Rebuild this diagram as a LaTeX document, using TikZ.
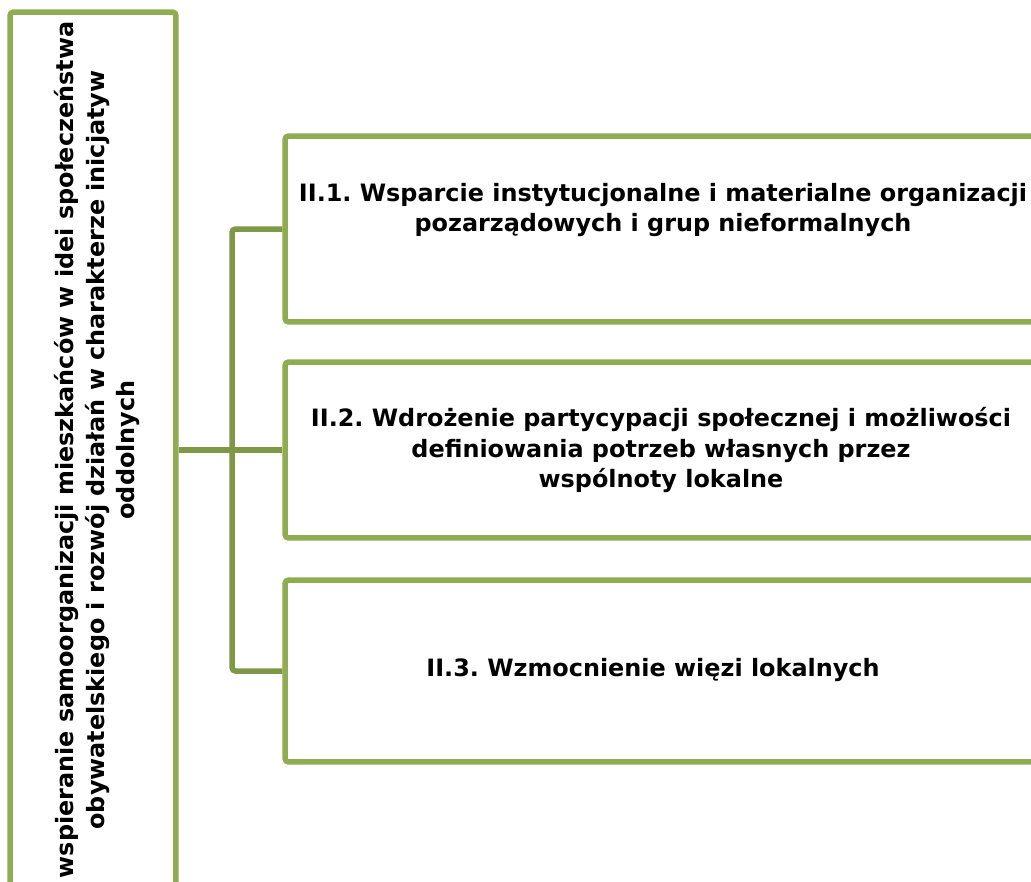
\documentclass[tikz,border=0pt]{standalone}
\usepackage{fontspec}
\setmainfont{DejaVu Sans}
\frenchspacing
\usepackage{xcolor}
\definecolor{boxgreen}{RGB}{143,172,80}
\definecolor{linkgreen}{RGB}{127,152,72}
\usetikzlibrary{positioning}
\usetikzlibrary{calc}
\tikzset{
	goalbox/.style={draw=boxgreen, line width=0.11cm, rounded corners=2pt, fill=white},
	boxtext/.style={align=center, font=\bfseries\fontsize{13.6}{17.6}\selectfont, inner sep=0pt},
	link/.style={draw=linkgreen, line width=0.11cm, rounded corners=2pt}
}

\begin{document}
\begin{tikzpicture}[x=0.02cm, y=-0.02cm]
	\useasboundingbox (0,0) rectangle (1031,882);
	\clip (0,0) rectangle (1031,882);

	% main goal (vertical)
	\node[goalbox, rotate=90, minimum width=18cm, minimum height=3.32cm] (goal) at (93,462) {};
	\node[boxtext, rotate=90] (goaltext) at (97,450) {wspieranie samoorganizacji mieszkańców w idei społeczeństwa\\ obywatelskiego i rozwój działań w charakterze inicjatyw\\ oddolnych};

	% top right
	\node[goalbox, minimum width=15.2cm, minimum height=3.72cm] (box1) at (665,229) {};
	\node[boxtext] (text1) at (663,210) {II.1. Wsparcie instytucjonalne i materialne organizacji\\ pozarządowych i grup nieformalnych};

	% middle right
	\node[goalbox, minimum width=15.2cm, minimum height=3.52cm] (box2) at (665,450) {};
	\node[boxtext] (text2) at (661,450) {II.2. Wdrożenie partycypacji społecznej i możliwości\\ definiowania potrzeb własnych przez\\ wspólnoty lokalne};

	% bottom right
	\node[goalbox, minimum width=15.2cm, minimum height=3.64cm] (box3) at (665,671) {};
	\node[boxtext] (text3) at (653,670) {II.3. Wzmocnienie więzi lokalnych};

	% connectors
	\coordinate (fork) at (232,450);
	\draw[link] (goal.south |- box2.west) -- (box2.west);
	\draw[link] (box1.west) -- (fork |- box1.west) -- (fork |- box3.west) -- (box3.west);
\end{tikzpicture}
\end{document}
